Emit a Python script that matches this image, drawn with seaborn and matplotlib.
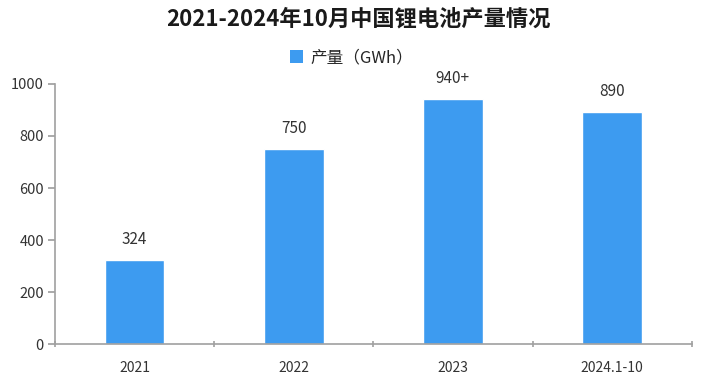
import matplotlib
matplotlib.use("Agg")
import matplotlib.pyplot as plt
import seaborn as sns
import pandas as pd

categories = ["2021", "2022", "2023", "2024.1-10"]
values = [324, 750, 943, 892]
value_labels = ["324", "750", "940+", "890"]
series_name = "产量（GWh）"
title = "2021-2024年10月中国锂电池产量情况"

sns.set_theme(style="white")
plt.rcParams['font.family'] = ['Noto Sans CJK SC', 'DejaVu Sans']

df = pd.DataFrame({"cat": categories, "val": values, "series": series_name})

fig = plt.figure(figsize=(7.17, 3.76), dpi=100)
ax = fig.add_axes([0.0767, 0.0851, 0.888, 0.6915])
color = "#3d9bf0"
sns.barplot(data=df, x="cat", y="val", hue="series", palette=[color], width=0.375,
            ax=ax, legend=False, saturation=1)

ax.set_ylim(0, 1000)
ax.set_xlim(-0.5, 3.5)
ax.set_yticks(range(0, 1001, 200))
ax.set_xlabel("")
ax.set_ylabel("")
for s in ["top", "right"]:
    ax.spines[s].set_visible(False)
for s in ["left", "bottom"]:
    ax.spines[s].set_color("#a0a0a0")
    ax.spines[s].set_linewidth(1.2)
ax.tick_params(axis="y", left=True, length=5, color="#a0a0a0", labelsize=10.5, labelcolor="#333333", pad=3)
ax.tick_params(axis="x", bottom=False, labelsize=10, labelcolor="#333333", pad=6)
# boundary ticks on x axis
ax.set_xticks([-0.5, 0.5, 1.5, 2.5, 3.5], minor=True)
ax.tick_params(axis="x", which="minor", bottom=True, length=5, direction="inout", color="#a0a0a0", width=1.2)

for i, (v, lab) in enumerate(zip(values, value_labels)):
    ax.text(i, v + 45, lab, ha="center", va="bottom", fontsize=11, color="#333333")

fig.text(0.5, 0.95, title, ha="center", va="center", fontsize=16, fontweight="bold", color="#1a1a1a")

# legend
from matplotlib.patches import Patch
fig.legend(handles=[Patch(facecolor=color, edgecolor="none")], labels=[series_name],
           loc="center", bbox_to_anchor=(0.49, 0.847), frameon=False, fontsize=12,
           handlelength=0.8, handleheight=0.8, handletextpad=0.4)

fig.savefig("out.png", dpi=100, facecolor="white")
